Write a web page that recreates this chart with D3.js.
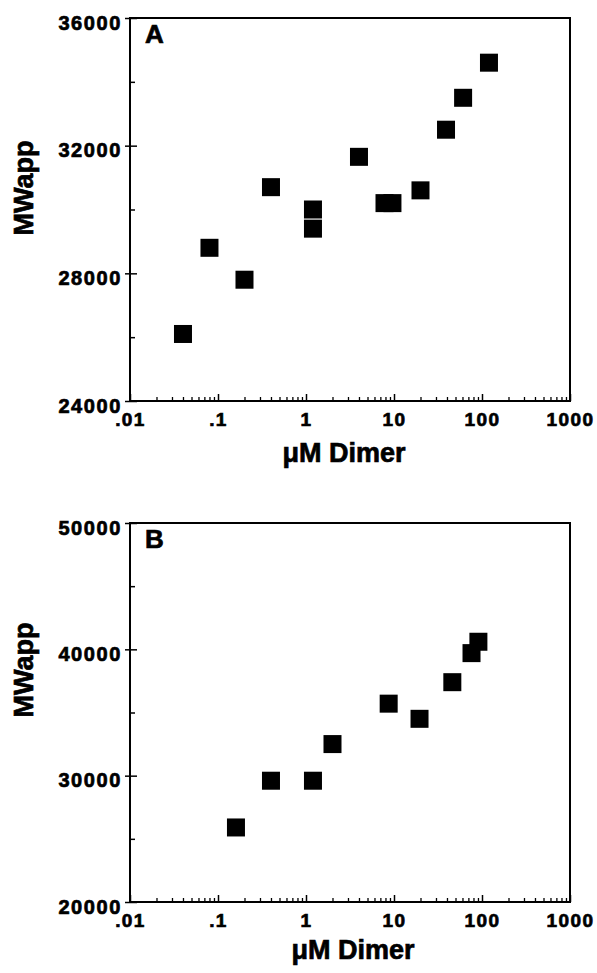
<!DOCTYPE html>
<html><head><meta charset="utf-8">
<script src="https://cdn.jsdelivr.net/npm/d3@7"></script>
<style>
body{margin:0;background:#fff;}
svg{display:block;}
text{font-family:"Liberation Sans",Arial,Helvetica,sans-serif;font-weight:bold;fill:#000;stroke:#000;stroke-width:0.7px;}
</style></head>
<body>
<svg id="chart" width="597" height="973"></svg>
<script>
// ---- data ----
const xLabelsTxt = [".01", ".1", "1", "10", "100", "1000"];
const xDecades = [0.01, 0.1, 1, 10, 100, 1000];

const panelA_x = [0.04, 0.08, 0.2, 0.4, 1.2, 1.2, 4, 7.8, 9.6, 20, 39, 61, 120];
const panelA_y = [26100, 28800, 27800, 30700, 29400, 30000, 31650, 30200, 30200, 30600, 32500, 33500, 34600];
const panelA_yTicks = [24000, 28000, 32000, 36000];
const panelA_yMinor = [26000, 30000, 34000];

const panelB_x = [0.16, 0.4, 1.2, 2, 8.7, 19.5, 46, 76, 91];
const panelB_y = [25900, 29600, 29600, 32500, 35700, 34500, 37400, 39700, 40600];
const panelB_yTicks = [20000, 30000, 40000, 50000];
const panelB_yMinor = [25000, 35000, 45000];

const xTitle = "μM Dimer";
const yTitle = "MWapp";

// ---- drawing ----
const svg = d3.select("#chart");
const L = 130, R = 570;
const x = d3.scaleLog().domain([0.01, 1000]).range([L, R]);
const xMinor = [];
xDecades.slice(0, -1).forEach(d => { for (let k = 2; k <= 9; k++) xMinor.push(d * k); });

function panel(cfg) {
  const y = d3.scaleLinear().domain([cfg.yTicks[0], cfg.yTicks[cfg.yTicks.length - 1]]).range([cfg.bottom, cfg.top]);
  const g = svg.append("g");

  // x minor ticks (inward)
  g.append("g").attr("transform", `translate(0,${cfg.bottom})`)
    .call(d3.axisBottom(x).tickValues(xMinor).tickSize(-4).tickFormat(""))
    .call(s => s.select(".domain").remove())
    .selectAll("line").attr("stroke-width", 1.3);
  // x major ticks + labels
  const xa = g.append("g").attr("transform", `translate(0,${cfg.bottom})`)
    .call(d3.axisBottom(x).tickValues(xDecades).tickSize(-7).tickPadding(12)
      .tickFormat((d, i) => xLabelsTxt[i]));
  xa.select(".domain").remove();
  xa.selectAll("line").attr("stroke-width", 1.5);
  xa.selectAll("text").style("font-size", "19px").style("letter-spacing", "1.4px").attr("font-family", null);

  // y ticks: outside part with labels
  const ya = g.append("g").attr("transform", `translate(${L},0)`)
    .call(d3.axisLeft(y).tickValues(cfg.yTicks).tickSize(5).tickPadding(3).tickFormat(d3.format("d")));
  ya.select(".domain").remove();
  ya.selectAll("line").attr("stroke-width", 1.5);
  ya.selectAll("text").style("font-size", "20px").style("letter-spacing", "1.6px").attr("dy", "0.55em").attr("font-family", null);
  // y ticks: inside part
  g.append("g").attr("transform", `translate(${L},0)`)
    .call(d3.axisRight(y).tickValues(cfg.yTicks).tickSize(7).tickFormat(""))
    .call(s => s.select(".domain").remove())
    .selectAll("line").attr("stroke-width", 1.5);
  g.append("g").attr("transform", `translate(${L},0)`)
    .call(d3.axisRight(y).tickValues(cfg.yMinor).tickSize(5).tickFormat(""))
    .call(s => s.select(".domain").remove())
    .selectAll("line").attr("stroke-width", 1.5);

  // frame
  g.append("rect").attr("x", L).attr("y", cfg.top).attr("width", R - L).attr("height", cfg.bottom - cfg.top)
    .attr("fill", "none").attr("stroke", "#000").attr("stroke-width", 2);

  // points
  const s = 18;
  g.selectAll("rect.pt").data(cfg.xs.map((v, i) => [v, cfg.ys[i]])).join("rect")
    .attr("class", "pt")
    .attr("x", d => x(d[0]) - s / 2).attr("y", d => y(d[1]) - s / 2)
    .attr("width", s).attr("height", s).attr("fill", "#000");

  // panel letter
  g.append("text").attr("x", L + 15).attr("y", cfg.top + 25).style("font-size", "26px").text(cfg.letter);

  // axis titles
  g.append("text").attr("x", cfg.xtX).attr("y", cfg.bottom + cfg.xtDy).attr("text-anchor", "middle")
    .style("font-size", "27px").text(xTitle);
  g.append("text").attr("transform", `translate(33,${cfg.ytY}) rotate(-90)`).attr("text-anchor", "middle")
    .style("font-size", "27px").text(yTitle);
}

panel({ top: 18, bottom: 401, xs: panelA_x, ys: panelA_y, yTicks: panelA_yTicks, yMinor: panelA_yMinor,
        letter: "A", xtX: 344, xtDy: 61, ytY: 188 });
panel({ top: 523, bottom: 902, xs: panelB_x, ys: panelB_y, yTicks: panelB_yTicks, yMinor: panelB_yMinor,
        letter: "B", xtX: 353, xtDy: 57, ytY: 670 });
</script>
</body></html>
